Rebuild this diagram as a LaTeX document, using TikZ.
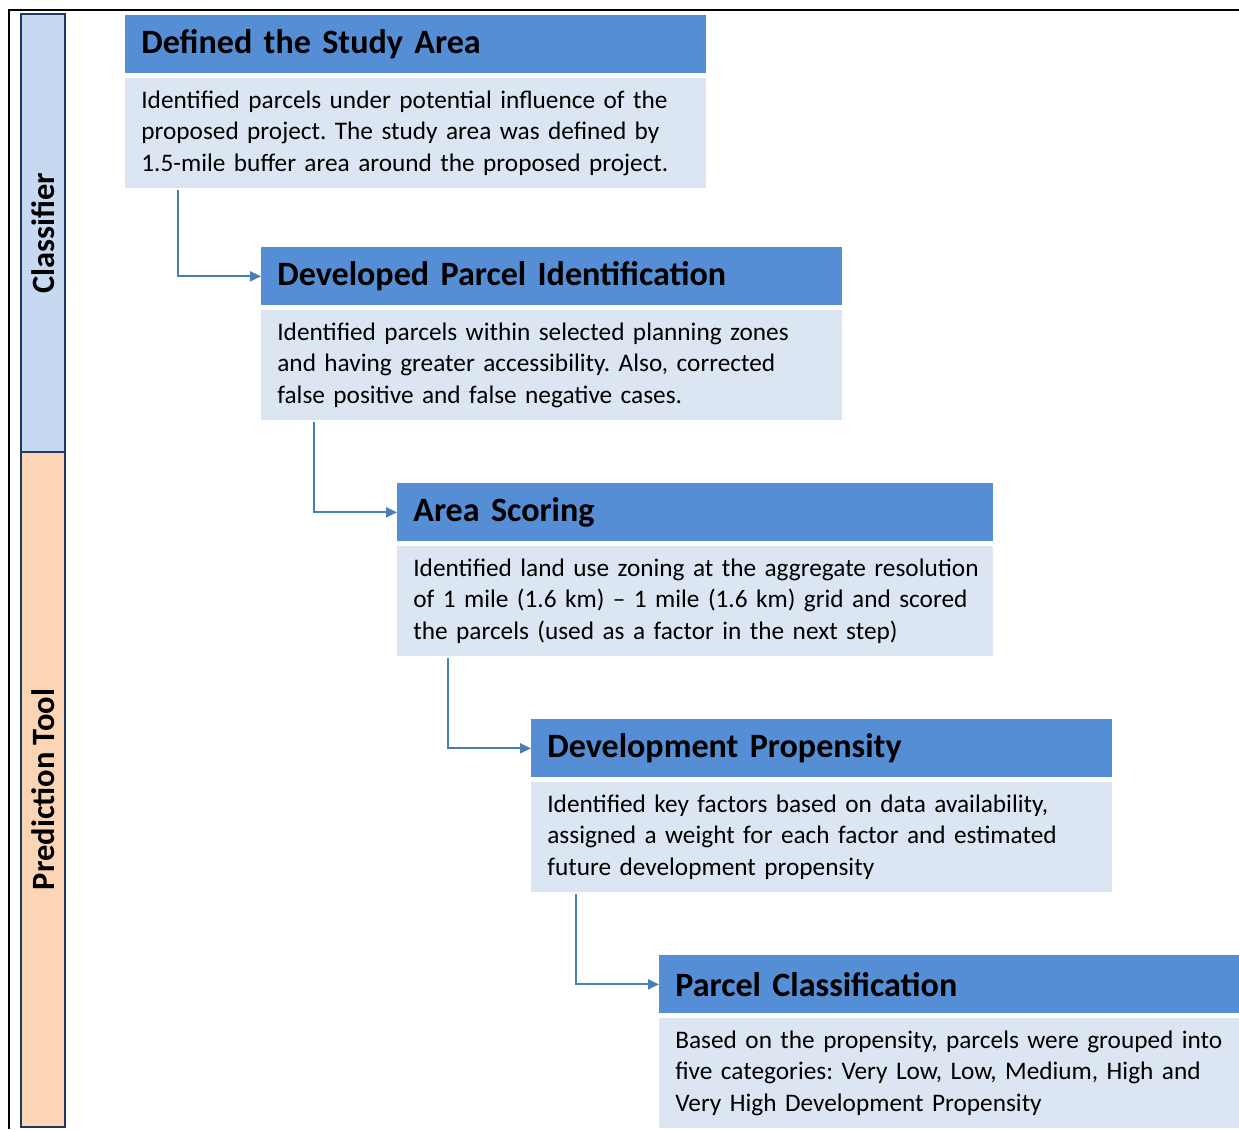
\documentclass[tikz,border=0pt]{standalone}
\usepackage{fontspec}
\setmainfont{Carlito}
\usetikzlibrary{positioning,arrows.meta}

\definecolor{headblue}{HTML}{558ED5}
\definecolor{bodyblue}{HTML}{DCE6F2}
\definecolor{classblue}{HTML}{C6D9F1}
\definecolor{predorange}{HTML}{FCD5B5}
\definecolor{navy}{HTML}{1F3864}
\definecolor{flowblue}{HTML}{4A7EBB}

\frenchspacing

\begin{document}
\begin{tikzpicture}[
    x=0.02cm, y=-0.02cm,
    node distance=0.08cm,
    head/.style={fill=headblue, text width=#1, minimum height=1.16cm,
      inner xsep=0.32cm, inner ysep=0pt, align=left, anchor=north west,
      font=\fontsize{19.4}{22}\selectfont\bfseries},
    body/.style={fill=bodyblue, text width=#1, minimum height=2.2cm,
      inner xsep=0.32cm, inner ysep=0pt, align=left,
      font=\fontsize{14.4}{17.9}\selectfont},
    side/.style={draw=navy, line width=1.4pt, rotate=90, minimum width=#1,
      minimum height=0.88cm, inner sep=0pt,
      font=\fontsize{18.5}{20}\selectfont\bfseries},
    flow/.style={draw=flowblue, line width=1.1pt, -{Triangle[length=0.22cm,width=0.2cm]}}
  ]

  \useasboundingbox (0,0) rectangle (1239,1129);

  % outer frame, cropped on the right and bottom
  \coordinate (frametop) at (1239,10);
  \coordinate (framecorner) at (9,10);
  \coordinate (framebottom) at (9,1129);
  \draw[line width=1.2pt] (framebottom) -- (framecorner) -- (frametop);

  % side bars
  \node[side=8.76cm, fill=classblue] (classifier) at (43,233) {Classifier};
  \node[side=13.5cm, fill=predorange] (prediction) at (43,789.5) {Prediction Tool};

  % the five steps
  \node[head=10.98cm] (head1) at (125,15) {Defined the Study Area};
  \node[body=10.98cm] (body1) [below=of head1]
    {Identified parcels under potential influence of the\\
     proposed project. The study area was defined by\\
     1.5-mile buffer area around the proposed project.};

  \node[head=10.98cm] (head2) at (261,247) {Developed Parcel Identification};
  \node[body=10.98cm] (body2) [below=of head2]
    {Identified parcels within selected planning zones\\
     and having greater accessibility. Also, corrected\\
     false positive and false negative cases.};

  \node[head=11.28cm] (head3) at (397,483) {Area Scoring};
  \node[body=11.28cm] (body3) [below=of head3]
    {\mbox{Identified land use zoning at the aggregate resolution}\\
     of 1 mile (1.6 km) -- 1 mile (1.6 km) grid and scored\\
     the parcels (used as a factor in the next step)};

  \node[head=10.98cm] (head4) at (531,719) {Development Propensity};
  \node[body=10.98cm] (body4) [below=of head4]
    {Identified key factors based on data availability,\\
     assigned a weight for each factor and estimated\\
     future development propensity};

  \node[head=10.96cm] (head5) at (659,955) {Parcel Classification};
  \node[body=10.96cm] (body5) [below=of head5]
    {Based on the propensity, parcels were grouped into\\
     five categories: Very Low, Low, Medium, High and\\
     Very High Development Propensity};

  % step to step
  \draw[flow] ([xshift=1.06cm,yshift=-0.04cm]body1.south west) |- (head2.west);
  \draw[flow] ([xshift=1.06cm,yshift=-0.04cm]body2.south west) |- (head3.west);
  \draw[flow] ([xshift=1.02cm,yshift=-0.04cm]body3.south west) |- (head4.west);
  \draw[flow] ([xshift=0.90cm,yshift=-0.04cm]body4.south west) |- (head5.west);

\end{tikzpicture}
\end{document}
